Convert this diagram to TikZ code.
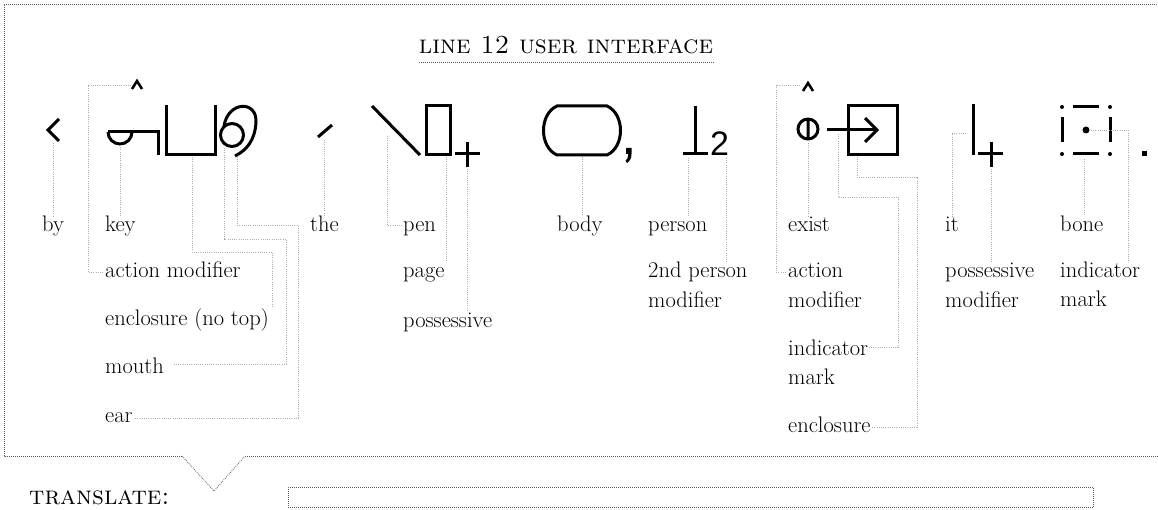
\documentclass[tikz,border=0pt]{standalone}
\usepackage{fontspec}
\newfontfamily\glyphsans{Liberation Sans}
\newcommand\lab[1]{\begin{tabular}[t]{@{}l@{}}#1\end{tabular}}
\begin{document}
\begin{tikzpicture}[x=1pt,y=-1pt,
  gl/.style={line width=3pt, line join=miter},
  caretst/.style={line width=2.5pt},
  lead/.style={draw=black!32, line width=0.9pt, dash pattern=on 0.9pt off 1.3pt},
  framest/.style={draw=black!65, line width=0.8pt, dash pattern=on 0.8pt off 1.2pt},
  lbl/.style={inner sep=0pt, anchor=base west, font=\fontsize{22.5}{22.5}\selectfont},
  ttl/.style={inner sep=0pt, anchor=base, font=\fontsize{26}{26}\selectfont\scshape\addfontfeatures{LetterSpace=3}}]
\useasboundingbox (0,0) rectangle (1158,510);

% frame with callout notch
\draw[framest] (182,456) -- (4,456) -- (4,4) -- (1160,4);
\draw[framest] (245,456) -- (1160,456);
\draw[framest] (182,456) -- (214,491) -- (245,456);

% title
\node[ttl] (title) at (566,54) {line {\addfontfeatures{Numbers=OldStyle}12} user interface};
\draw[framest] ([yshift=-8pt]title.base west) -- ([yshift=-8pt]title.base east);

% translate
\node[ttl, anchor=base west] (translate) at (29,504) {translate:};
\node[framest, draw, anchor=north west, inner sep=0pt, minimum width=805pt, minimum height=20pt] (answer) at (288,487) {};

% ---------- glyphs ----------
% <
\draw[gl] (59,119) -- (48,130) -- (59,141);
% key + caret
\draw[gl, caretst] (132,89) -- (137,81) -- (142,89);
\draw[gl] (108,132) -- (158,132) -- (158,155);
\draw[gl] (108,132) arc[start angle=180, end angle=0, radius=12];
% enclosure no top
\draw[gl] (166,105) -- (166,155) -- (215,155) -- (215,105);
% mouth
\draw[gl] (232,135) circle[radius=11.5];
% ear
\draw[gl] (224,126) .. controls (228,101) and (257,100) .. (256,122) .. controls (255,140) and (247,150) .. (235,156);
% the
\draw[gl] (318,137) -- (332,125);
% pen
\draw[gl] (372,106) -- (420,155);
% page
\draw[gl] (426,106) rectangle (450,155);
% possessive
\draw[gl] (455,154) -- (480,154) (467,142) -- (467,167);
% body
\draw[gl] (557,106) -- (607,106) .. controls (625,114) and (625,147) .. (607,155) -- (557,155) .. controls (539,147) and (539,114) .. (557,106) -- cycle;
% comma
\fill (626,148) -- (631.5,148) -- (631.5,154) .. controls (631.5,158) and (630,161) .. (627,163) -- (625.5,161) .. controls (627.5,159) and (628.3,157) .. (628.3,154) -- (626,154) -- cycle;
% person + 2
\draw[gl] (683,154) -- (708,154) (695,106) -- (695,154);
\node[inner sep=0pt, anchor=base west, font=\glyphsans\fontsize{34}{34}\selectfont] (two) at (710,155.5) {2};
% exist caret
\draw[gl, caretst] (803,91) -- (808,83) -- (813,91);
% exist
\draw[gl] (808,129) circle[radius=10] (808,118) -- (808,140);
% arrow in box
\draw[gl] (827,130) -- (877,130);
\draw[gl] (865,118) -- (877,130) -- (865,142);
\draw[gl] (848,106) rectangle (897,155);
% it + possessive
\draw[gl] (973,104) -- (973,155);
\draw[gl] (978,154) -- (1003,154) (991,142) -- (991,167);
% bone
\fill (1062,107) circle[radius=2] (1110,107) circle[radius=2] (1062,154) circle[radius=2] (1110,154) circle[radius=2];
\draw[gl] (1073,107) -- (1099,107) (1073,154) -- (1099,154) (1062,117) -- (1062,142) (1110,117) -- (1110,142);
\fill (1086,130) circle[radius=3.5];
% period
\fill (1142,151) rectangle (1147,156);

% ---------- labels ----------
\node[lbl] (by) at (42,232) {\lab{by}};
\node[lbl] (key) at (105,232) {\lab{key}};
\node[lbl] (actA) at (105,278) {\lab{action modifier}};
\node[lbl] (enclA) at (105,325) {\lab{enclosure (no top)}};
\node[lbl] (mouth) at (105,373) {\lab{mouth}};
\node[lbl] (ear) at (105,422) {\lab{ear}};
\node[lbl] (the) at (310,232) {\lab{the}};
\node[lbl] (pen) at (403,232) {\lab{pen}};
\node[lbl] (page) at (403,278) {\lab{page}};
\node[lbl] (possA) at (403,327) {\lab{possessive}};
\node[lbl] (body) at (557,232) {\lab{body}};
\node[lbl] (person) at (648,232) {\lab{person}};
\node[lbl] (twoper) at (648,278) {\lab{2nd person\\[6.5pt]modifier}};
\node[lbl] (exist) at (788,232) {\lab{exist}};
\node[lbl] (actB) at (788,278) {\lab{action\\[6.5pt]modifier}};
\node[lbl] (indB) at (788,355) {\lab{indicator\\[6.5pt]mark}};
\node[lbl] (encB) at (788,432) {\lab{enclosure}};
\node[lbl] (it) at (945,232) {\lab{it}};
\node[lbl] (possmod) at (945,278) {\lab{possessive\\[6.5pt]modifier}};
\node[lbl] (bone) at (1060,232) {\lab{bone}};
\node[lbl] (indC) at (1060,278) {\lab{indicator\\[6.5pt]mark}};

% ---------- leaders ----------
\coordinate (gBy) at (53,143);
\draw[lead] (gBy) -- (gBy |- by.north);
\coordinate (gKey) at (120,145);
\draw[lead] (gKey) -- (gKey |- key.north);
\coordinate (gCarA) at (131,85);
\draw[lead] (gCarA) -| ([xshift=-17pt,yshift=6pt]actA.base west) -- ([xshift=-1pt,yshift=6pt]actA.base west);
\coordinate (gU) at (192,157);
\coordinate (cU) at (272,252);
\draw[lead] (gU) |- (cU) -- (cU |- enclA.north);
\coordinate (gMouth) at (224,148);
\coordinate (cMouth) at (286,239);
\draw[lead] (gMouth) |- (cMouth) |- ([xshift=9pt,yshift=9pt]mouth.base east);
\coordinate (gEar) at (237,157);
\coordinate (cEar) at (298,225);
\draw[lead] (gEar) |- (cEar) |- ([xshift=1pt,yshift=4pt]ear.base east);
\coordinate (gThe) at (324,140);
\draw[lead] (gThe) -- (gThe |- the.north);
\coordinate (gPen) at (387,136);
\draw[lead] (gPen) |- ([xshift=-1pt,yshift=7pt]pen.base west);
\coordinate (gPage) at (446,157);
\draw[lead] (gPage) -- (gPage |- page.north);
\coordinate (gPoss) at (467,169);
\draw[lead] (gPoss) -- (gPoss |- possA.north);
\coordinate (gBody) at (582,157);
\draw[lead] (gBody) -- (gBody |- body.north);
\coordinate (gPerson) at (688,158);
\draw[lead] (gPerson) -- (gPerson |- person.north);
\coordinate (gTwo) at (726,158);
\draw[lead] (gTwo) -- (gTwo |- twoper.north);
\coordinate (gCarB) at (800,85);
\draw[lead] (gCarB) -| ([xshift=-12pt,yshift=6pt]actB.base west) -- ([xshift=-1pt,yshift=6pt]actB.base west);
\coordinate (gExist) at (808,143);
\draw[lead] (gExist) -- (gExist |- exist.north);
\coordinate (gInd) at (838,134);
\coordinate (cInd) at (898,197);
\draw[lead] (gInd) |- (cInd) |- ([xshift=1pt,yshift=8pt]indB.base east);
\coordinate (gEnc) at (857,157);
\coordinate (cEnc) at (917,177);
\draw[lead] (gEnc) |- (cEnc) |- ([xshift=1pt,yshift=5pt]encB.base east);
\coordinate (gIt) at (966,133);
\draw[lead] (gIt) -| ([xshift=7pt]it.north west);
\coordinate (gPossMod) at (991,169);
\draw[lead] (gPossMod) -- (gPossMod |- possmod.north);
\coordinate (gBone) at (1084,159);
\draw[lead] (gBone) -- (gBone |- bone.north);
\coordinate (gBoneInd) at (1091,130);
\coordinate (cBone) at (1128,130);
\draw[lead] (gBoneInd) -- (cBone) -- (cBone |- indC.north);
\end{tikzpicture}
\end{document}
